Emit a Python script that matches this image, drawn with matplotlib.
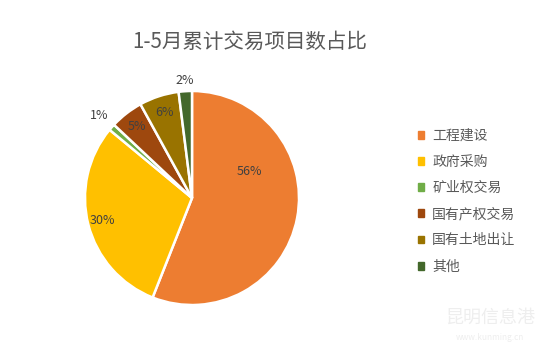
import numpy as np
import matplotlib.pyplot as plt

plt.rcParams['font.family'] = ['Noto Sans CJK SC', 'DejaVu Sans']

categories = ['工程建设', '政府采购', '矿业权交易', '国有产权交易', '国有土地出让', '其他']
shares = [56, 30, 1, 5, 6, 2]
colors = ['#ED7D31', '#FFC000', '#70AD47', '#9E480E', '#997300', '#43682B']
# label placement: (distance from centre, angle shift in degrees)
label_pos = [(0.59, 36), (0.86, 0), (1.16, 0), (0.84, 0), (0.84, 0), (1.10, 0)]

fig = plt.figure(figsize=(5.53, 3.56), dpi=100)
cx, cy, r = 192, 158, 107
ax = fig.add_axes([(cx - r) / 553, (cy - r) / 356, 2 * r / 553, 2 * r / 356])

wedges, texts = ax.pie(shares, colors=colors, startangle=90, counterclock=False,
                       radius=1, wedgeprops=dict(edgecolor='white', linewidth=1.8))
ax.set_xlim(-1, 1)
ax.set_ylim(-1, 1)
ax.set_aspect('equal')
ax.axis('off')

for w, v, (d, shift) in zip(wedges, shares, label_pos):
    ang = np.deg2rad((w.theta1 + w.theta2) / 2 + shift)
    ax.text(d * np.cos(ang), d * np.sin(ang), '{}%'.format(v),
            ha='center', va='center', fontsize=9, color='#404040')

fig.text(250 / 553, 1 - 42 / 356, '1-5月累计交易项目数占比', ha='center', va='center',
         fontsize=14.8, color='#595959')

handles = [plt.Rectangle((0, 0), 1, 1, color=c) for c in colors]
fig.legend(handles, categories, loc='upper left', bbox_to_anchor=(405 / 553, 1 - 116 / 356),
           frameon=False, fontsize=10, labelcolor='#595959', handlelength=0.5,
           handleheight=0.5, handletextpad=0.55, labelspacing=0.88)

fig.text(490 / 553, 1 - 318 / 356, '昆明信息港', ha='center', va='center',
         fontsize=13, color='#eeeeee')
fig.text(490 / 553, 1 - 337 / 356, 'www.kunming.cn', ha='center', va='center',
         fontsize=6, color='#eeeeee')

fig.savefig('out.png', dpi=100)
